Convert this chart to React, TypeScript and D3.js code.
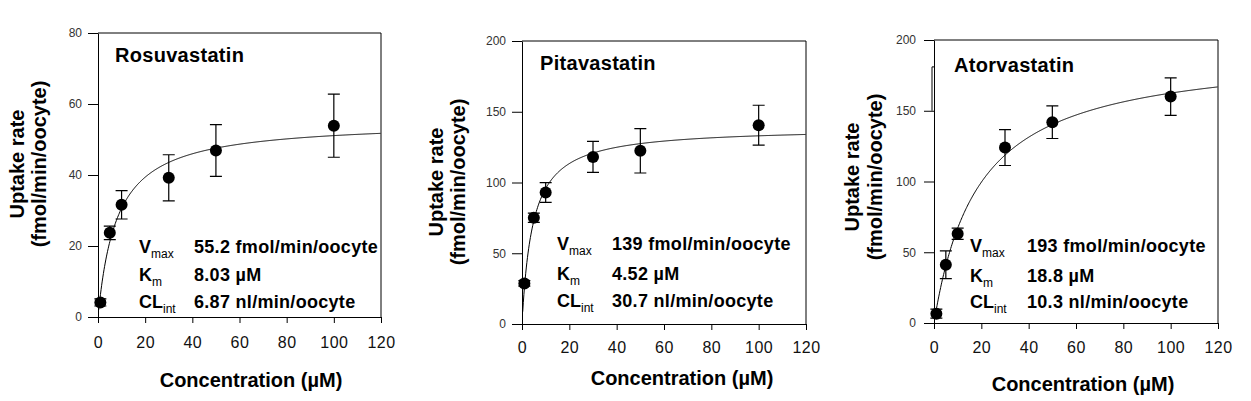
import React, { useRef, useEffect } from 'react';
import * as d3 from 'd3';

const W = 1251;
const H = 401;

// concentrations (uM) shared by all three drugs
const concentrations = [1, 5, 10, 30, 50, 100];

const drugNames = ['Rosuvastatin', 'Pitavastatin', 'Atorvastatin'];

// uptake rate (fmol/min/oocyte), mean and error
const rosuMean = [4.1, 23.7, 31.6, 39.2, 46.9, 53.9];
const rosuErr = [1.0, 1.9, 4.0, 6.5, 7.3, 8.9];
const pitaMean = [28.7, 75.1, 92.9, 118.1, 122.4, 140.5];
const pitaErr = [2.0, 3.3, 7.0, 11.0, 15.7, 14.1];
const atorMean = [6.6, 41.2, 63.1, 124.0, 141.9, 160.0];
const atorErr = [3.2, 9.8, 4.0, 12.7, 11.5, 13.2];

// fitted kinetic parameters
const vmaxValues = [55.2, 139, 193];
const kmValues = [8.03, 4.52, 18.8];
const vmaxLabels = ['55.2 fmol/min/oocyte', '139 fmol/min/oocyte', '193 fmol/min/oocyte'];
const kmLabels = ['8.03 \u00B5M', '4.52 \u00B5M', '18.8 \u00B5M'];
const clintLabels = ['6.87 nl/min/oocyte', '30.7 nl/min/oocyte', '10.3 nl/min/oocyte'];

const yMaxValues = [80, 200, 200];
const yTickValues = [[0, 20, 40, 60, 80], [0, 50, 100, 150, 200], [0, 50, 100, 150, 200]];
const xTickValues = [0, 20, 40, 60, 80, 100, 120];

const means = [rosuMean, pitaMean, atorMean];
const errs = [rosuErr, pitaErr, atorErr];

// layout of each panel (pixel boxes)
const panels = [
  { x0: 98, x1: 381, y0: 317, y1: 33, xPad: 14, yPad: 6, title: [17, 62], labX: 41, valX: 96, rows: [253, 281, 308], xLab: [251, 387], yLab: [24, 46, 164] },
  { x0: 522, x1: 806, y0: 324, y1: 41, xPad: 12, yPad: 6, title: [18, 70], labX: 35, valX: 90, rows: [250, 280, 307], xLab: [682, 385], yLab: [443, 465, 182] },
  { x0: 934, x1: 1218, y0: 323, y1: 40, xPad: 13, yPad: 8, title: [20, 72], labX: 36, valX: 93, rows: [252, 282, 308], xLab: [1083, 391], yLab: [859, 882, 177] },
];

const FONT = '"Liberation Sans", Arial, Helvetica, sans-serif';

const App: React.FC = () => {
  const svgRef = useRef<SVGSVGElement | null>(null);

  useEffect(() => {
    const svg = d3.select(svgRef.current);
    svg.selectAll('*').remove();
    svg.append('rect').attr('width', W).attr('height', H).attr('fill', '#fff');

    panels.forEach((p, i) => {
      const x = d3.scaleLinear().domain([0, 120]).range([p.x0, p.x1]);
      const y = d3.scaleLinear().domain([0, yMaxValues[i]]).range([p.y0, p.y1]);
      const g = svg.append('g').attr('font-family', FONT);

      // frame top/right
      g.append('path')
        .attr('d', `M${p.x0},${p.y1}H${p.x1}V${p.y0}`)
        .attr('fill', 'none')
        .attr('stroke', '#000')
        .attr('stroke-width', 1);

      const xAxis = g.append('g')
        .attr('transform', `translate(0,${p.y0})`)
        .call(d3.axisBottom(x).tickValues(xTickValues).tickSize(6).tickSizeOuter(0).tickPadding(p.xPad));
      xAxis.selectAll('text').attr('font-size', 16).attr('font-family', FONT).attr('fill', '#111').attr('letter-spacing', 0.5);

      const yAxis = g.append('g')
        .attr('transform', `translate(${p.x0},0)`)
        .call(d3.axisLeft(y).tickValues(yTickValues[i]).tickSize(10).tickSizeOuter(0).tickPadding(p.yPad));
      yAxis.selectAll('text').attr('font-size', 12).attr('font-family', FONT).attr('fill', '#333');

      [xAxis, yAxis].forEach(a => {
        a.selectAll('path, line').attr('stroke', '#000').attr('stroke-width', 1);
      });

      // fitted Michaelis-Menten curve from displayed Vmax / Km
      const vmax = vmaxValues[i];
      const km = kmValues[i];
      const grid = d3.range(0.3, 120.01, 0.25);
      const line = d3.line<number>()
        .x(c => x(c))
        .y(c => y((vmax * c) / (km + c)));
      g.append('path')
        .datum(grid)
        .attr('d', line)
        .attr('fill', 'none')
        .attr('stroke', '#000')
        .attr('stroke-width', 1);

      // error bars
      const cap = 6;
      concentrations.forEach((c, j) => {
        const cx = x(c);
        const hi = y(means[i][j] + errs[i][j]);
        const lo = y(means[i][j] - errs[i][j]);
        g.append('path')
          .attr('d', `M${cx},${hi}V${lo}M${cx - cap},${hi}H${cx + cap}M${cx - cap},${lo}H${cx + cap}`)
          .attr('stroke', '#000')
          .attr('stroke-width', 1.2)
          .attr('fill', 'none');
      });

      g.selectAll('.pt')
        .data(concentrations)
        .enter()
        .append('circle')
        .attr('cx', c => x(c))
        .attr('cy', (_, j) => y(means[i][j]))
        .attr('r', 6)
        .attr('fill', '#000');

      // stray bracket left of the atorvastatin axis
      if (i === 2) {
        g.append('path')
          .attr('d', `M${p.x0},${y(181)}H${p.x0 - 2}V${y(150)}`)
          .attr('fill', 'none')
          .attr('stroke', '#000')
          .attr('stroke-width', 1);
      }

      // drug name
      g.append('text')
        .attr('x', p.x0 + p.title[0])
        .attr('y', p.title[1])
        .attr('font-size', 20)
        .attr('font-weight', 'bold')
        .attr('letter-spacing', 0.3)
        .text(drugNames[i]);

      // parameters
      const rows: [string, string, string][] = [
        ['V', 'max', vmaxLabels[i]],
        ['K', 'm', kmLabels[i]],
        ['CL', 'int', clintLabels[i]],
      ];
      rows.forEach(([main, sub, val], k) => {
        const t = g.append('text')
          .attr('x', p.x0 + p.labX)
          .attr('y', p.rows[k])
          .attr('font-size', 18)
          .attr('font-weight', 'bold');
        t.append('tspan').text(main);
        t.append('tspan').attr('dy', 5).attr('font-size', 12).attr('font-weight', 'normal').text(sub);
        g.append('text')
          .attr('x', p.x0 + p.valX)
          .attr('y', p.rows[k])
          .attr('font-size', 18)
          .attr('font-weight', 'bold')
          .attr('letter-spacing', 0.3)
          .text(val);
      });

      // axis titles
      g.append('text')
        .attr('x', p.xLab[0])
        .attr('y', p.xLab[1])
        .attr('text-anchor', 'middle')
        .attr('font-size', 20)
        .attr('font-weight', 'bold')
        .text('Concentration (\u00B5M)');

      const [bx1, bx2, cy] = p.yLab;
      g.append('text')
        .attr('transform', `translate(${bx1},${cy}) rotate(-90)`)
        .attr('text-anchor', 'middle')
        .attr('font-size', 20)
        .attr('font-weight', 'bold')
        .text('Uptake rate');
      g.append('text')
        .attr('transform', `translate(${bx2},${cy}) rotate(-90)`)
        .attr('text-anchor', 'middle')
        .attr('font-size', 20)
        .attr('font-weight', 'bold')
        .text('(fmol/min/oocyte)');
    });
  }, []);

  return (
    <svg
      ref={svgRef}
      width={W}
      height={H}
      style={{ position: 'absolute', left: 0, top: 0, display: 'block' }}
    />
  );
};

export default App;
